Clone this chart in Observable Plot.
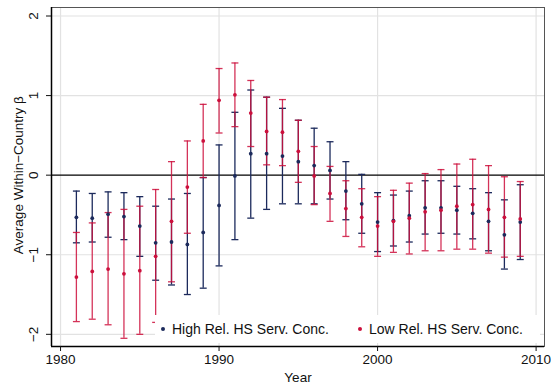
<!DOCTYPE html>
<html>
<head>
<meta charset="utf-8">
<script src="https://cdn.jsdelivr.net/npm/d3@7"></script>
<script src="https://cdn.jsdelivr.net/npm/@observablehq/plot@0.6"></script>
<style>
  body { margin: 0; background: #fff; font-family: "Liberation Sans", Arial, sans-serif; }
  #wrap { position: relative; width: 551px; height: 388px; }
  #legend { position: absolute; left: 155px; top: 315px; width: 385px; height: 28px; background: #fff;
            font-size: 14px; color: #111; }
  .item { position: absolute; top: 6px; white-space: nowrap; }
  .dot { display: inline-block; width: 4px; height: 4px; border-radius: 2px; vertical-align: middle; margin-right: 7px; position: relative; top: -1px; }
</style>
</head>
<body>
<div id="wrap">
  <div id="chart"></div>
  <div id="legend">
    <div class="item" style="left:6px"><span class="dot" style="background:#1c2a5c"></span>High Rel. HS Serv. Conc.</div>
    <div class="item" style="left:203px"><span class="dot" style="background:#cc0f3c"></span>Low Rel. HS Serv. Conc.</div>
  </div>
</div>
<script>
const years = [1981,1982,1983,1984,1985,1986,1987,1988,1989,1990,1991,1992,1993,1994,1995,1996,1997,1998,1999,2000,2001,2002,2003,2004,2005,2006,2007,2008,2009];
const highEst = [-0.53,-0.54,-0.49,-0.52,-0.64,-0.85,-0.84,-0.87,-0.72,-0.38,-0.01,0.27,0.27,0.24,0.17,0.12,0.06,-0.20,-0.36,-0.59,-0.57,-0.51,-0.41,-0.41,-0.44,-0.48,-0.58,-0.75,-0.59];
const highHi  = [-0.20,-0.23,-0.21,-0.22,-0.27,-0.39,-0.30,-0.23,-0.03,0.38,0.79,1.07,0.98,0.84,0.69,0.59,0.42,0.17,0.01,-0.22,-0.25,-0.20,-0.07,-0.07,-0.14,-0.17,-0.22,-0.31,-0.12];
const highLo  = [-0.85,-0.84,-0.78,-0.81,-1.02,-1.32,-1.38,-1.50,-1.42,-1.14,-0.81,-0.54,-0.43,-0.36,-0.36,-0.36,-0.30,-0.56,-0.73,-0.96,-0.89,-0.84,-0.74,-0.73,-0.74,-0.80,-0.95,-1.18,-1.06];
const lowEst  = [-1.28,-1.21,-1.18,-1.24,-1.20,-1.02,-0.58,-0.15,0.43,0.94,1.01,0.78,0.55,0.54,0.30,-0.01,-0.23,-0.42,-0.53,-0.64,-0.58,-0.54,-0.46,-0.44,-0.39,-0.37,-0.43,-0.53,-0.55];
const lowHi   = [-0.72,-0.60,-0.47,-0.43,-0.39,-0.18,0.17,0.43,0.89,1.34,1.41,1.19,0.98,0.95,0.69,0.36,0.11,-0.07,-0.17,-0.27,-0.19,-0.10,0.02,0.07,0.14,0.20,0.12,-0.02,-0.08];
const lowLo   = [-1.84,-1.81,-1.88,-2.05,-2.00,-1.85,-1.34,-0.73,-0.03,0.53,0.61,0.36,0.13,0.12,-0.09,-0.37,-0.58,-0.77,-0.90,-1.02,-0.97,-0.99,-0.95,-0.95,-0.93,-0.93,-0.98,-1.03,-1.02];
const xTicks = [1980, 1990, 2000, 2010];
const yTicks = [-2, -1, 0, 1, 2];
const yTickLabels = ["\u22122", "\u22121", "0", "1", "2"];

const navy = "#1c2a5c", red = "#cc0f3c";
const high = years.map((y, i) => ({year: y, est: highEst[i], lo: highLo[i], hi: highHi[i]}));
const low = years.map((y, i) => ({year: y, est: lowEst[i], lo: lowLo[i], hi: lowHi[i]}));
const cap = 0.22;
const xDom = [1979.43, 2010.53], yDom = [-2.153, 2.107];

function bars(data, color, op) {
  return [
    Plot.ruleX(data, {x: "year", y1: "lo", y2: "hi", stroke: color, strokeWidth: 1.3, strokeOpacity: op}),
    Plot.link(data, {x1: d => d.year - cap, x2: d => d.year + cap, y1: "hi", y2: "hi", stroke: color, strokeWidth: 1.3, strokeOpacity: op}),
    Plot.link(data, {x1: d => d.year - cap, x2: d => d.year + cap, y1: "lo", y2: "lo", stroke: color, strokeWidth: 1.3, strokeOpacity: op})
  ];
}

const chart = Plot.plot({
  width: 551, height: 388,
  marginLeft: 51, marginRight: 7, marginTop: 7, marginBottom: 42,
  style: {fontFamily: "'Liberation Sans', Arial, sans-serif", fontSize: "13.5px", color: "#111"},
  x: {domain: xDom},
  y: {domain: yDom},
  marks: [
    Plot.gridX(xTicks, {stroke: "#e2e2e2", strokeOpacity: 1, strokeWidth: 1.2}),
    Plot.gridY([-2, -1, 1, 2], {stroke: "#e2e2e2", strokeOpacity: 1, strokeWidth: 1.2}),
    Plot.ruleY([0], {stroke: "#000", strokeWidth: 1.2}),
    ...bars(high, navy, 1),
    ...bars(low, red, 0.85),
    Plot.dot(high, {x: "year", y: "est", r: 1.9, fill: navy}),
    Plot.dot(low, {x: "year", y: "est", r: 1.9, fill: red}),
    Plot.frame({stroke: "#555", strokeWidth: 1}),
    Plot.ruleX([xDom[0]], {stroke: "#000", strokeWidth: 1.5}),
    Plot.ruleY([yDom[0]], {stroke: "#000", strokeWidth: 1.5}),
    Plot.axisX({ticks: xTicks, tickFormat: d => String(d), tickSize: 5, tickPadding: 3, label: null, fontSize: 13.5}),
    Plot.axisY({ticks: yTicks, tickFormat: () => "", tickSize: 5, label: null}),
    Plot.text(yTicks, {x: xDom[0], y: d => d, text: (d, i) => yTickLabels[i], rotate: -90, dx: -18, textAnchor: "middle", lineAnchor: "middle", fontSize: 13.5}),
    Plot.text(["Average Within\u2212Country \u03b2"], {x: xDom[0], y: 0, rotate: -90, dx: -33, textAnchor: "middle", lineAnchor: "middle", fontSize: 13.5}),
    Plot.text(["Year"], {frameAnchor: "bottom", dy: 31, lineAnchor: "middle", fontSize: 13.5})
  ]
});
document.getElementById("chart").appendChild(chart);
</script>
</body>
</html>
